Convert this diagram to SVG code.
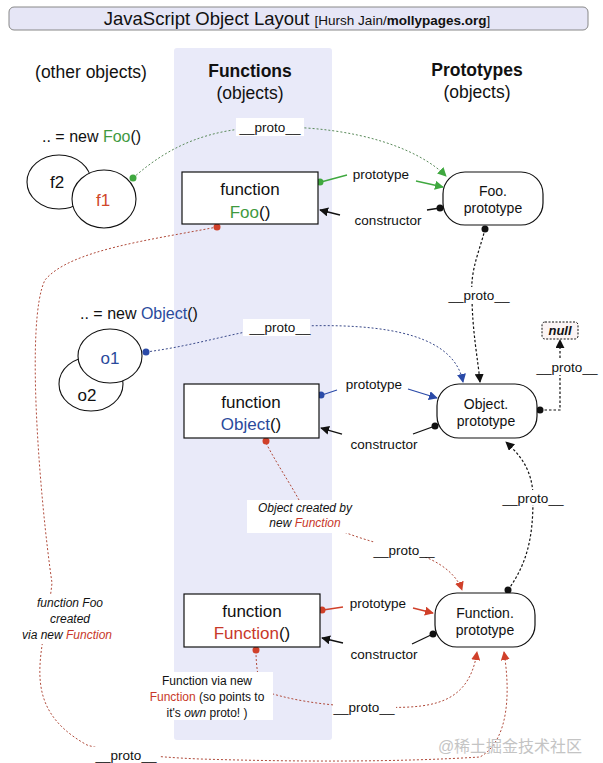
<svg xmlns="http://www.w3.org/2000/svg" width="603" height="763" viewBox="0 0 603 763">
<style>
text{font-family:"Liberation Sans",Arial,sans-serif;fill:#111}
.h{font-size:17.5px;text-anchor:middle}
.b{font-weight:bold}
.fn{font-size:17px;text-anchor:middle}
.pt{font-size:13.5px;text-anchor:middle}
.lb{font-size:13.5px;text-anchor:middle}
.it{font-style:italic}
.g{fill:#3f9a3f}
.bl{fill:#2a4a9c}
.r{fill:#c8382a}
.or{fill:#d0482a}
.wm{fill:#c4c4c4}
.box{fill:#fff;stroke:#111;stroke-width:1.2}
.pill{fill:#fff;stroke:#111;stroke-width:1.2}
.ell{fill:#fff;stroke:#111;stroke-width:1.1}
.wb{fill:#fff}
.dg{fill:none;stroke:#5a8a5a;stroke-width:1;stroke-dasharray:2,2}
.db{fill:none;stroke:#3a4a8a;stroke-width:1;stroke-dasharray:2,2}
.dr{fill:none;stroke:#b04a3a;stroke-width:1;stroke-dasharray:2,2}
.dk{fill:none;stroke:#111;stroke-width:1.2;stroke-dasharray:2.5,2}
.sg{fill:none;stroke:#3fa83f;stroke-width:1.3}
.sb{fill:none;stroke:#2a4aa8;stroke-width:1.3}
.sr{fill:none;stroke:#d0402a;stroke-width:1.3}
.sk{fill:none;stroke:#111;stroke-width:1.3}
</style>
<defs>
<marker id="ag" viewBox="0 0 10 10" refX="9" refY="5" markerWidth="9" markerHeight="9" markerUnits="userSpaceOnUse" orient="auto"><path d="M0,0 L10,5 L0,10 z" fill="#3fa83f"/></marker>
<marker id="ab" viewBox="0 0 10 10" refX="9" refY="5" markerWidth="9" markerHeight="9" markerUnits="userSpaceOnUse" orient="auto"><path d="M0,0 L10,5 L0,10 z" fill="#2a4aa8"/></marker>
<marker id="ar" viewBox="0 0 10 10" refX="9" refY="5" markerWidth="9" markerHeight="9" markerUnits="userSpaceOnUse" orient="auto"><path d="M0,0 L10,5 L0,10 z" fill="#d0402a"/></marker>
<marker id="ak" viewBox="0 0 10 10" refX="9" refY="5" markerWidth="9" markerHeight="9" markerUnits="userSpaceOnUse" orient="auto"><path d="M0,0 L10,5 L0,10 z" fill="#111"/></marker>
</defs>
<rect width="603" height="763" fill="#fff"/>
<!-- title -->
<g id="title">
<rect x="9" y="7" width="579" height="23" rx="5" fill="#e6e6f6" stroke="#888" stroke-width="1"/>
<text x="297" y="25" text-anchor="middle" style="font-size:18.5px">JavaScript Object Layout <tspan style="font-size:13.5px">[Hursh Jain/</tspan><tspan style="font-size:13.5px" font-weight="bold">mollypages.org</tspan><tspan style="font-size:13.5px">]</tspan></text>
</g>
<!-- column -->
<rect x="174" y="48" width="158" height="692" rx="3" fill="#e9eaf9"/>
<g id="headers">
<text class="h" x="91" y="78">(other objects)</text>
<text class="h b" x="250" y="77">Functions</text>
<text class="h" x="250" y="99">(objects)</text>
<text class="h b" x="477" y="76">Prototypes</text>
<text class="h" x="477" y="98">(objects)</text>
</g>
<!-- connectors -->
<g id="connectors">
<path class="dg" d="M133,178 C170,145 210,128 270,127 C360,126 420,150 446,176" marker-end="url(#ag)"/>
<path class="db" d="M146,352 C200,345 240,330 280,327 C400,320 455,340 463,382" marker-end="url(#ab)"/>
<path class="dk" d="M485,229 C480,250 470,270 472,295 C472,330 478,360 480,382" marker-end="url(#ak)"/>
<path class="dk" d="M540,410 L560,410 L560,340" marker-end="url(#ak)"/>
<path class="dk" d="M508,590 C530,560 533,530 533,498 C533,470 520,455 506,442" marker-end="url(#ak)"/>
<path class="dr" d="M266,443 C280,470 295,490 305,512 C340,535 370,540 400,550 C430,555 455,570 462,590" marker-end="url(#ar)"/>
<path class="dr" d="M256,651 C256,665 258,675 260,690 C290,700 320,705 364,707 C420,708 468,712 477,652" marker-end="url(#ar)"/>
<path class="dr" d="M217,227 C150,240 70,250 45,280 C25,320 40,500 52,583 C45,650 15,705 87,745 C110,752 150,757 200,759 C300,762 400,762 480,757 C510,740 510,690 504,652" marker-end="url(#ar)"/>
<!-- prototype / constructor solid -->
<path class="sg" d="M321,182 L347,175"/>
<path class="sg" d="M416,181 L443,187" marker-end="url(#ag)"/>
<path class="sk" d="M440,208 L427,210"/>
<path class="sk" d="M340,215 L320,210" marker-end="url(#ak)"/>
<path class="sb" d="M322,395 L337,390"/>
<path class="sb" d="M408,389 L437,398" marker-end="url(#ab)"/>
<path class="sk" d="M435,426 L413,434"/>
<path class="sk" d="M342,434 L321,428" marker-end="url(#ak)"/>
<path class="sr" d="M323,610 L343,607"/>
<path class="sr" d="M413,608 L433,613" marker-end="url(#ar)"/>
<path class="sk" d="M433,634 L412,644"/>
<path class="sk" d="M343,643 L322,638" marker-end="url(#ak)"/>
<!-- dots -->
<circle cx="133" cy="178" r="3.5" fill="#3fa83f"/>
<circle cx="320" cy="182" r="3.5" fill="#3fa83f"/>
<circle cx="146" cy="352" r="3.5" fill="#2a4aa8"/>
<circle cx="321" cy="395" r="3.5" fill="#2a4aa8"/>
<circle cx="217" cy="227" r="3.5" fill="#d0402a"/>
<circle cx="266" cy="441" r="3.5" fill="#d0402a"/>
<circle cx="256" cy="650" r="3.5" fill="#d0402a"/>
<circle cx="322" cy="610" r="3.5" fill="#d0402a"/>
<circle cx="440" cy="208" r="3.5" fill="#111"/>
<circle cx="485" cy="229" r="3.5" fill="#111"/>
<circle cx="435" cy="426" r="3.5" fill="#111"/>
<circle cx="540" cy="410" r="3.5" fill="#111"/>
<circle cx="433" cy="634" r="3.5" fill="#111"/>
<circle cx="508" cy="590" r="3.5" fill="#111"/>
<!-- labels -->
<rect class="wb" x="236" y="118" width="68" height="18"/>
<text class="lb" x="270" y="132">__proto__</text>
<text class="pt" x="381" y="179">prototype</text>
<text class="pt" x="388" y="225">constructor</text>
<rect class="wb" x="243" y="319" width="67" height="17"/>
<text class="lb" x="280" y="332">__proto__</text>
<text class="pt" x="374" y="389">prototype</text>
<text class="pt" x="384" y="449">constructor</text>
<text class="pt" x="378" y="608">prototype</text>
<text class="pt" x="384" y="659">constructor</text>
<rect class="wb" x="444" y="287" width="70" height="16"/>
<text class="lb" x="479" y="300">__proto__</text>
<rect class="wb" x="535" y="360" width="63" height="15"/>
<text class="lb" x="567" y="372">__proto__</text>
<rect class="wb" x="501" y="490" width="63" height="15"/>
<text class="lb" x="533" y="503">__proto__</text>
<rect class="wb" x="373" y="542" width="63" height="15"/>
<text class="lb" x="404" y="555">__proto__</text>
<rect class="wb" x="333" y="699" width="63" height="16"/>
<text class="lb" x="364" y="712">__proto__</text>
<rect class="wb" x="92" y="747" width="68" height="16"/>
<text class="lb" x="126" y="760">__proto__</text>
<rect class="wb" x="247" y="500" width="114" height="33"/>
<text class="it" x="305" y="512" style="font-size:12px" text-anchor="middle">Object created by</text>
<text class="it" x="305" y="527" style="font-size:12px" text-anchor="middle">new <tspan class="r">Function</tspan></text>
<rect class="wb" x="140" y="672" width="133" height="48"/>
<text x="207" y="685" style="font-size:12px" text-anchor="middle">Function via new</text>
<text x="207" y="701" style="font-size:12px" text-anchor="middle"><tspan class="r">Function</tspan> (so points to</text>
<text x="207" y="717" style="font-size:12px" text-anchor="middle">it's <tspan font-style="italic">own</tspan> proto! )</text>
<rect class="wb" x="30" y="594" width="92" height="50"/>
<text class="it" x="70" y="607" style="font-size:12px" text-anchor="middle">function Foo</text>
<text class="it" x="70" y="623" style="font-size:12px" text-anchor="middle">created</text>
<text class="it" x="67" y="639" style="font-size:12px" text-anchor="middle">via new <tspan class="r">Function</tspan></text>
</g>
<!-- left objects -->
<g id="foo-instances">
<text x="42" y="142" style="font-size:16px">.. = new <tspan class="g">Foo</tspan>()</text>
<ellipse class="ell" cx="59" cy="182" rx="32" ry="27"/>
<text x="57" y="188" style="font-size:17px" text-anchor="middle">f2</text>
<ellipse class="ell" cx="104" cy="199" rx="32" ry="29"/>
<text x="103" y="206" style="font-size:17px" text-anchor="middle" class="or">f1</text>
</g>
<g id="object-instances">
<text x="80" y="319" style="font-size:16px">.. = new <tspan class="bl">Object</tspan>()</text>
<ellipse class="ell" cx="91" cy="384" rx="32" ry="27"/>
<text x="87" y="401" style="font-size:17px" text-anchor="middle">o2</text>
<ellipse class="ell" cx="110" cy="356" rx="32" ry="27"/>
<text x="110" y="364" style="font-size:17px" text-anchor="middle" class="bl">o1</text>
</g>
<!-- function boxes -->
<g id="fn-foo">
<rect class="box" x="182" y="172" width="136" height="52"/>
<text class="fn" x="250" y="195">function</text>
<text class="fn" x="250" y="218"><tspan class="g">Foo</tspan>()</text>
</g>
<g id="fn-object">
<rect class="box" x="184" y="384" width="135" height="54"/>
<text class="fn" x="251" y="408">function</text>
<text class="fn" x="251" y="430"><tspan class="bl">Object</tspan>()</text>
</g>
<g id="fn-function">
<rect class="box" x="184" y="594" width="136" height="53"/>
<text class="fn" x="252" y="617">function</text>
<text class="fn" x="252" y="639"><tspan class="r">Function</tspan>()</text>
</g>
<!-- prototypes -->
<g id="foo-prototype">
<rect class="pill" x="443" y="172" width="100" height="53" rx="22"/>
<text class="pt" x="493" y="196" style="font-size:14px">Foo.</text>
<text class="pt" x="493" y="213" style="font-size:14px">prototype</text>
</g>
<g id="object-prototype">
<rect class="pill" x="437" y="384" width="100" height="54" rx="22"/>
<text class="pt" x="486" y="409" style="font-size:14px">Object.</text>
<text class="pt" x="486" y="426" style="font-size:14px">prototype</text>
</g>
<g id="function-prototype">
<rect class="pill" x="435" y="593" width="100" height="54" rx="22"/>
<text class="pt" x="485" y="618" style="font-size:14px">Function.</text>
<text class="pt" x="485" y="635" style="font-size:14px">prototype</text>
</g>
<g id="null">
<rect x="542" y="322" width="36" height="17" rx="3" fill="#fbf4f4" stroke="#111" stroke-width="1" stroke-dasharray="2,1.5"/>
<text x="560" y="335" text-anchor="middle" style="font-size:13px;font-weight:bold;font-style:italic">null</text>
</g>
<text x="510" y="752" text-anchor="middle" class="wm" style="font-size:16px;font-family:'Liberation Sans','Noto Sans CJK SC',sans-serif">@稀土掘金技术社区</text>
</svg>
